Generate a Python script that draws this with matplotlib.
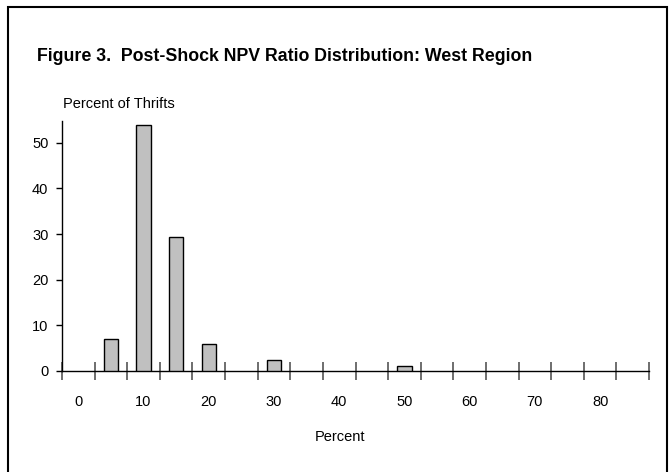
import matplotlib
matplotlib.use("Agg")
import matplotlib.pyplot as plt
from matplotlib.patches import Rectangle

# NPV ratio bins (percent) and share of thrifts in each bin
bins = [0, 5, 10, 15, 20, 25, 30, 35, 40, 45, 50, 55, 60, 65, 70, 75, 80, 85]
share = [0, 7.1, 54.0, 29.3, 6.0, 0, 2.3, 0, 0, 0, 1.1, 0, 0, 0, 0, 0, 0, 0]
xlabels = [0, 10, 20, 30, 40, 50, 60, 70, 80]
yticks = [0, 10, 20, 30, 40, 50]

plt.rcParams["font.family"] = ["Liberation Sans", "DejaVu Sans"]

fig = plt.figure(figsize=(6.72, 4.72), dpi=100)
ax = fig.add_axes([0.0923, 0.214, 0.8735, 0.5297])

pos = list(range(len(bins)))
# empty bins get no bar at all
bar_pos = [p for p, v in zip(pos, share) if v > 0]
bar_val = [v for v in share if v > 0]
ax.bar(bar_pos, bar_val, width=0.44, color="#c0c0c0", edgecolor="black", linewidth=1.0, zorder=3)

ax.set_xlim(-0.5, len(bins) - 0.5)
ax.set_ylim(0, 54.8)

# tick marks sit between categories, labels under every other category
ax.set_xticks([p - 0.5 for p in pos] + [len(bins) - 0.5])
ax.set_xticklabels([])
ax.set_xticks([bins.index(v) for v in xlabels], minor=True)
ax.set_xticklabels([str(v) for v in xlabels], minor=True)
ax.tick_params(axis="x", which="major", direction="inout", length=13, width=1.2, color="#555555")
ax.tick_params(axis="x", which="minor", length=0, labelsize=10.5, pad=17.5)

ax.set_yticks(yticks)
ax.tick_params(axis="y", direction="out", length=4, width=1, labelsize=10.5, pad=5.8)

for s in ["top", "right"]:
    ax.spines[s].set_visible(False)
for s in ["left", "bottom"]:
    ax.spines[s].set_linewidth(1.0)

ax.set_xlabel("Percent", fontsize=10.5, va="top")
ax.xaxis.set_label_coords(0.4736, -0.236)

fig.text(0.055, 0.8708, "Figure 3.  Post-Shock NPV Ratio Distribution: West Region",
         fontsize=12.8, fontweight="bold", va="baseline", ha="left")
fig.text(0.0938, 0.7712, "Percent of Thrifts", fontsize=10.5, va="baseline", ha="left")

# frame around the whole exhibit
fig.patches.append(Rectangle((0.0125, -0.05), 0.98, 1.035, transform=fig.transFigure,
                             fill=False, edgecolor="black", linewidth=1.5))

fig.savefig("out.png", dpi=100)
